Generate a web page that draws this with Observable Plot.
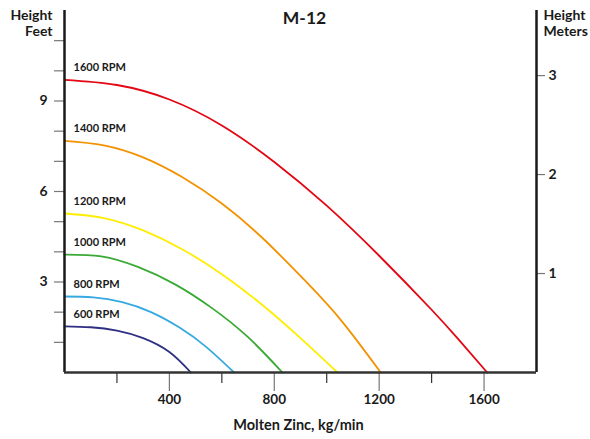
<!DOCTYPE html>
<html><head><meta charset="utf-8">
<script src="https://cdn.jsdelivr.net/npm/d3@7"></script>
<script src="https://cdn.jsdelivr.net/npm/@observablehq/plot@0.6"></script>
<style>body{margin:0;background:#fff;font-family:Lato,sans-serif}</style>
</head><body><div id="chart"></div>
<script>
// flow (kg/min), height (ft)
const rpm600  = [[0,1.53],[100,1.50],[200,1.39],[300,1.14],[400,0.68],[482,0]];
const rpm800  = [[0,2.52],[110,2.49],[220,2.33],[330,2.00],[440,1.48],[540,0.85],[647,0]];
const rpm1000 = [[0,3.91],[140,3.85],[280,3.50],[420,2.93],[560,2.15],[700,1.17],[831,0]];
const rpm1200 = [[0,5.27],[150,5.12],[300,4.71],[450,4.08],[600,3.26],[750,2.27],[900,1.14],[1041,0]];
const rpm1400 = [[0,7.68],[150,7.53],[300,7.13],[450,6.47],[600,5.60],[750,4.50],[900,3.20],[1050,1.78],[1206,0]];
const rpm1600 = [[0,9.70],[200,9.53],[400,9.05],[600,8.19],[800,6.98],[1000,5.53],[1200,3.87],[1400,2.08],[1500,1.12],[1612,0]];

const seriesNames  = ["600 RPM","800 RPM","1000 RPM","1200 RPM","1400 RPM","1600 RPM"];
const seriesColors = ["#2e3082","#36a9e1","#3aaa35","#ffed00","#f39200","#e30613"];
const seriesData   = [rpm600, rpm800, rpm1000, rpm1200, rpm1400, rpm1600];

const xMajorTicks = [400, 800, 1200, 1600];
const xMinorTicks = [200, 600, 1000, 1400];
const ftTicks = [1,2,3,4,5,6,7,8,9,10,11];
const ftLabels = [3, 6, 9];
const meterTicks = [1, 2, 3];
const FT_PER_M = 3.28084;

const series = seriesNames.map((name, i) => ({
  name, color: seriesColors[i],
  rows: seriesData[i].map(([flow, height]) => ({flow, height}))
}));

const font = "Lato, 'Open Sans', sans-serif";
const ink = "#1a1a1a";

const chart = Plot.plot({
  width: 590, height: 439,
  marginLeft: 64, marginRight: 54, marginTop: 10, marginBottom: 67,
  style: {fontFamily: font, background: "#fff", overflow: "visible"},
  x: {domain: [0, 1800], axis: null},
  y: {domain: [0, 12], axis: null},
  marks: [
    ...series.map(s => Plot.line(s.rows, {x: "flow", y: "height", stroke: s.color, strokeWidth: 1.8, curve: "natural"})),
    Plot.text(series, {x: () => 0, y: s => s.rows[0].height, text: "name", dx: 9, dy: -12, textAnchor: "start",
      fontSize: 11, fontWeight: "bold", fill: ink}),
    // left axis (feet) ticks and labels
    Plot.ruleY(ftTicks, {y: d => d, x1: () => 0, x2: () => 0, insetLeft: -10, stroke: "#777", strokeWidth: 1.2}),
    Plot.text(ftLabels, {y: d => d, frameAnchor: "left", dx: -17, textAnchor: "end", text: d => String(d),
      fontSize: 14, fontWeight: "bold", fill: ink}),
    // right axis (meters)
    Plot.ruleY(meterTicks, {y: d => d * FT_PER_M, x1: () => 1800, x2: () => 1800, insetRight: -9, stroke: "#777", strokeWidth: 1.2}),
    Plot.text(meterTicks, {y: d => d * FT_PER_M, frameAnchor: "right", dx: 12, textAnchor: "start", text: d => String(d),
      fontSize: 14, fontWeight: "bold", fill: ink}),
    // bottom axis ticks and labels
    Plot.ruleX(xMajorTicks, {x: d => d, y1: () => 0, y2: () => 0, insetBottom: -19, stroke: "#777", strokeWidth: 1.2}),
    Plot.ruleX(xMinorTicks, {x: d => d, y1: () => 0, y2: () => 0, insetBottom: -11, stroke: "#333", strokeWidth: 1.2}),
    Plot.text(xMajorTicks, {x: d => d, frameAnchor: "bottom", dy: 31, text: d => String(d),
      fontSize: 13.5, fontWeight: "bold", fill: ink}),
    // axis lines
    Plot.ruleX([0], {stroke: ink, strokeWidth: 2.5}),
    Plot.ruleX([1800], {stroke: ink, strokeWidth: 2.5}),
    Plot.ruleY([0], {stroke: "#333", strokeWidth: 2.5}),
    // titles
    Plot.text(["M-12"], {frameAnchor: "top", dx: 4, dy: 1, lineAnchor: "top", text: d => d,
      fontSize: 17.5, fontWeight: "bold", fill: ink}),
    Plot.text(["Height\nFeet"], {frameAnchor: "top-left", dx: -12, dy: -1, lineAnchor: "top", textAnchor: "end", text: d => d,
      fontSize: 14, fontWeight: "bold", lineHeight: 1.1, fill: ink}),
    Plot.text(["Height\nMeters"], {frameAnchor: "top-right", dx: 7, dy: -1, lineAnchor: "top", textAnchor: "start", text: d => d,
      fontSize: 14, fontWeight: "bold", lineHeight: 1.1, fill: ink}),
    Plot.text(["Molten Zinc, kg/min"], {frameAnchor: "bottom", dx: -2, dy: 57, text: d => d,
      fontSize: 14.5, fontWeight: "bold", fill: ink})
  ]
});
document.getElementById("chart").appendChild(chart);
</script>
</body></html>
